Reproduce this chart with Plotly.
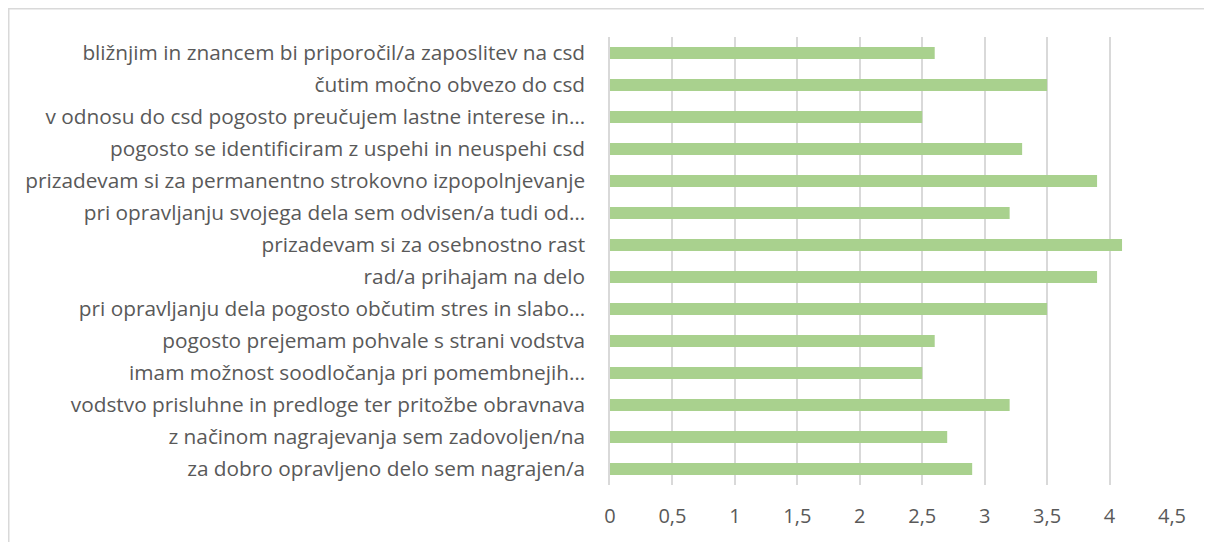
import plotly.graph_objects as go

categories = [
    "bližnjim in znancem bi priporočil/a zaposlitev na csd",
    "čutim močno obvezo do csd",
    "v odnosu do csd pogosto preučujem lastne interese in…",
    "pogosto se identificiram z uspehi in neuspehi csd",
    "prizadevam si za permanentno strokovno izpopolnjevanje",
    "pri opravljanju svojega dela sem odvisen/a tudi od…",
    "prizadevam si za osebnostno rast",
    "rad/a prihajam na delo",
    "pri opravljanju dela pogosto občutim stres in slabo…",
    "pogosto prejemam pohvale s strani vodstva",
    "imam možnost soodločanja pri pomembnejih…",
    "vodstvo prisluhne in predloge ter pritožbe obravnava",
    "z načinom nagrajevanja sem zadovoljen/na",
    "za dobro opravljeno delo sem nagrajen/a",
]
values = [2.6, 3.5, 2.5, 3.3, 3.9, 3.2, 4.1, 3.9, 3.5, 2.6, 2.5, 3.2, 2.7, 2.9]
tick_vals = [0, 0.5, 1, 1.5, 2, 2.5, 3, 3.5, 4, 4.5]
tick_text = ["0", "0,5", "1", "1,5", "2", "2,5", "3", "3,5", "4", "4,5"]

fig = go.Figure(
    go.Bar(
        x=values,
        y=categories,
        orientation="h",
        marker=dict(color="#A9D18E", line=dict(width=0)),
        hoverinfo="x+y",
    )
)

font_family = "Open Sans, Lato, sans-serif"
L, R, T, B = 602, 48, 29, 65
plot_w = 1212 - L - R
plot_h = 542 - T - B
fig.update_layout(
    width=1212,
    height=542,
    margin=dict(l=L, r=R, t=T, b=B),
    paper_bgcolor="white",
    plot_bgcolor="white",
    bargap=0.62,
    showlegend=False,
    font=dict(family=font_family, color="#595959", size=20),
    xaxis=dict(
        range=[0, 4.5],
        tickvals=tick_vals,
        ticktext=tick_text,
        showgrid=True,
        gridcolor="#D9D9D9",
        gridwidth=1.5,
        zeroline=False,
        showline=False,
        ticks="",
        ticklabelstandoff=17,
        tickfont=dict(size=20, color="#595959"),
    ),
    yaxis=dict(
        autorange="reversed",
        showgrid=False,
        showline=True,
        linecolor="#D9D9D9",
        linewidth=1.5,
        ticks="",
        ticklabelstandoff=19,
        tickfont=dict(size=20.8, color="#595959"),
    ),
    shapes=[
        dict(
            type="rect",
            xref="paper",
            yref="paper",
            x0=-(L - 0.75) / plot_w,
            x1=1 + (R + 20) / plot_w,
            y0=-(B + 20) / plot_h,
            y1=1 + (T - 0.75) / plot_h,
            line=dict(color="#D9D9D9", width=1.5),
            fillcolor="rgba(0,0,0,0)",
            layer="below",
        )
    ],
)

fig.write_html("out.html")
